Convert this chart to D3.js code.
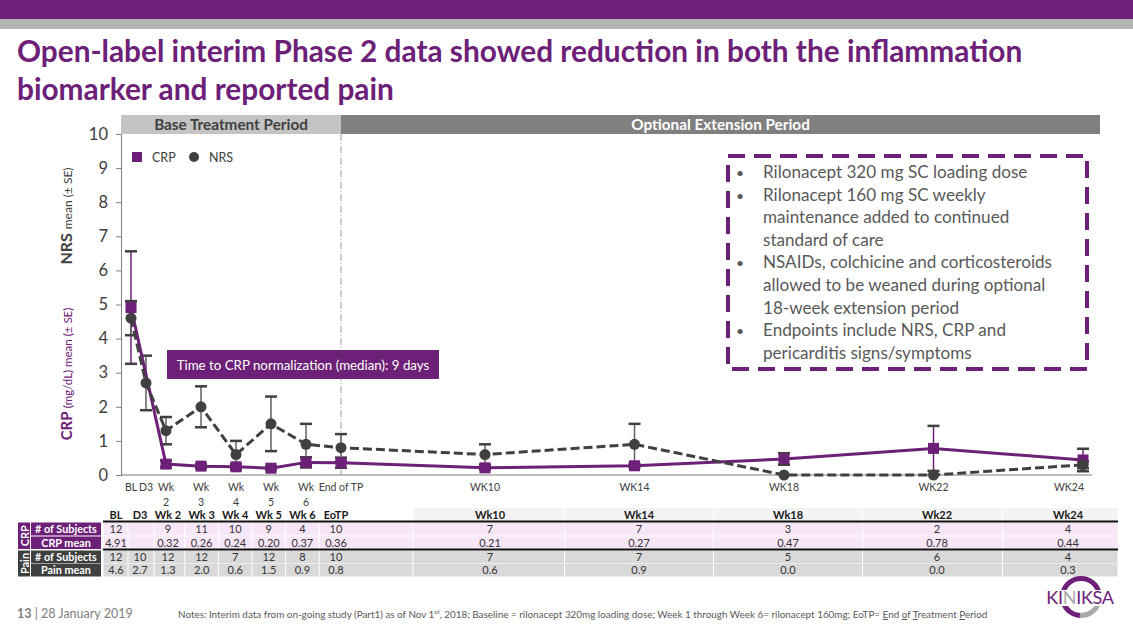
<!DOCTYPE html>
<html>
<head>
<meta charset="utf-8">
<script src="https://cdn.jsdelivr.net/npm/d3@7/dist/d3.min.js"></script>
<style>
  html, body { margin: 0; padding: 0; background: #ffffff; }
  svg { display: block; font-family: Lato, "Open Sans", sans-serif; }
</style>
</head>
<body>
<svg id="chart" width="1133" height="635"></svg>
<script>
// ---------------- DATA ----------------
const categories = ["BL", "D3", "Wk 2", "Wk 3", "Wk 4", "Wk 5", "Wk 6", "EoTP", "Wk10", "Wk14", "Wk18", "Wk22", "Wk24"];
const axisLabels = [["BL"], ["D3"], ["Wk", "2"], ["Wk", "3"], ["Wk", "4"], ["Wk", "5"], ["Wk", "6"], ["End of TP"], ["WK10"], ["WK14"], ["WK18"], ["WK22"], ["WK24"]];
const studyDay = [0, 3, 7, 14, 21, 28, 35, 42, 70, 98, 126, 154, 182];
const crpMean = [4.91, null, 0.32, 0.26, 0.24, 0.20, 0.37, 0.36, 0.21, 0.27, 0.47, 0.78, 0.44];
const crpSE   = [1.65, null, 0.10, 0.06, 0.08, 0.05, 0.15, 0.15, 0.05, 0.05, 0.17, 0.66, 0.33];
const nrsMean = [4.6, 2.7, 1.3, 2.0, 0.6, 1.5, 0.9, 0.8, 0.6, 0.9, 0.0, 0.0, 0.3];
const nrsSE   = [0.5, 0.8, 0.4, 0.6, 0.4, 0.8, 0.6, 0.4, 0.3, 0.6, 0.0, 0.0, 0.1];
const crpN    = [12, null, 9, 11, 10, 9, 4, 10, 7, 7, 3, 2, 4];
const painN   = [12, 10, 12, 12, 7, 12, 8, 10, 7, 7, 5, 6, 4];
const yTicks = [0, 1, 2, 3, 4, 5, 6, 7, 8, 9, 10];
const periods = ["Base Treatment Period", "Optional Extension Period"];
const bullets = [
  ["Rilonacept 320 mg SC loading dose"],
  ["Rilonacept 160 mg SC weekly", "maintenance added to continued", "standard of care"],
  ["NSAIDs, colchicine and corticosteroids", "allowed to be weaned during optional", "18-week extension period"],
  ["Endpoints include NRS, CRP and", "pericarditis signs/symptoms"]
];
const titleLines = ["Open-label interim Phase 2 data showed reduction in both the inflammation", "biomarker and reported pain"];
const callout = "Time to CRP normalization (median): 9 days";

// ---------------- STYLE ----------------
const PURPLE = "#6d2077";
const DARK = "#404040";
const svg = d3.select("#chart");

// top bands
svg.append("rect").attr("x", 0).attr("y", 0).attr("width", 1133).attr("height", 19).attr("fill", PURPLE);
svg.append("rect").attr("x", 0).attr("y", 19).attr("width", 1133).attr("height", 10).attr("fill", "#b4b4b4");

// title
svg.append("g").selectAll("text").data(titleLines).join("text")
  .attr("x", 17).attr("y", (d, i) => 62 + i * 38)
  .attr("fill", PURPLE).attr("font-size", 29.8).attr("font-weight", 700)
  .text(d => d);

// ---------------- SCALES ----------------
const x = d3.scaleLinear().domain([0, 42, 70, 182]).range([131, 341, 485, 1083]);
const y = d3.scaleLinear().domain([0, 10]).range([475, 134]);
const tx = d3.scaleLinear().domain([0, 3, 7, 42, 70, 154, 182]).range([116, 140, 168, 336, 490, 937, 1068]);

// period header bars
const pStart = [121, x(42)];
const pEnd = [x(42), 1100];
periods.forEach((p, i) => {
  svg.append("rect").attr("x", pStart[i]).attr("y", 115).attr("width", pEnd[i] - pStart[i]).attr("height", 19)
    .attr("fill", i === 0 ? "#c4c4c4" : "#808080");
  svg.append("text").attr("x", (pStart[i] + pEnd[i]) / 2).attr("y", 130).attr("text-anchor", "middle")
    .attr("font-size", 15.3).attr("font-weight", 700).attr("fill", i === 0 ? DARK : "#ffffff").text(p);
});

// end of TP separator
svg.append("line").attr("x1", x(42)).attr("x2", x(42)).attr("y1", 134).attr("y2", y(0))
  .attr("stroke", "#9a9a9a").attr("stroke-width", 1).attr("stroke-dasharray", "7 2 1 2");

// y axis
const yAxis = d3.axisLeft(y).tickValues(yTicks).tickSize(5).tickPadding(8);
const gy = svg.append("g").attr("transform", "translate(121,0)").call(yAxis);
gy.select(".domain").attr("stroke", "#7f7f7f");
gy.selectAll(".tick line").attr("stroke", "#7f7f7f");
gy.selectAll(".tick text").attr("font-size", 16.5).attr("fill", DARK).attr("font-family", "Lato, sans-serif");

// y axis titles
const yt1 = svg.append("text").attr("transform", "translate(72,216) rotate(-90)").attr("text-anchor", "middle").attr("fill", DARK);
yt1.append("tspan").attr("font-size", 16).attr("font-weight", 700).text("NRS ");
yt1.append("tspan").attr("font-size", 12).text("mean (± SE)");
const yt2 = svg.append("text").attr("transform", "translate(72,374) rotate(-90)").attr("text-anchor", "middle").attr("fill", PURPLE);
yt2.append("tspan").attr("font-size", 15).attr("font-weight", 700).text("CRP ");
yt2.append("tspan").attr("font-size", 11.5).text("(mg/dL) mean (± SE)");

// x axis line
svg.append("line").attr("x1", 121).attr("x2", 1092).attr("y1", y(0)).attr("y2", y(0)).attr("stroke", "#7f7f7f").attr("stroke-width", 1.2);

// x labels
const xl = svg.append("g").selectAll("text").data(axisLabels).join("text")
  .attr("x", (d, i) => x(studyDay[i]) + (i === 12 ? -14 : 0))
  .attr("text-anchor", "middle").attr("font-size", 10.5).attr("fill", DARK);
xl.selectAll("tspan").data(d => d).join("tspan")
  .attr("x", function () { return d3.select(this.parentNode).attr("x"); })
  .attr("y", (d, j) => 491 + j * 15).text(d => d);

// series
const pts = categories.map((c, i) => ({ i, day: studyDay[i], crp: crpMean[i], crpSE: crpSE[i], nrs: nrsMean[i], nrsSE: nrsSE[i] }));
const crpPts = pts.filter(d => d.crp !== null);

// error bars
const eb = svg.append("g");
function errBars(data, key, seKey, lineColor) {
  const g = eb.append("g");
  const f = data.filter(d => d[seKey] > 0);
  g.selectAll("line.v").data(f).join("line").attr("class", "v")
    .attr("x1", d => x(d.day)).attr("x2", d => x(d.day))
    .attr("y1", d => y(d[key] + d[seKey])).attr("y2", d => y(Math.max(0, d[key] - d[seKey])))
    .attr("stroke", lineColor).attr("stroke-width", 1.5);
  ["+", "-"].forEach(s => {
    g.selectAll("line.c" + (s === "+" ? "u" : "l")).data(f).join("line").attr("class", "c" + (s === "+" ? "u" : "l"))
      .attr("x1", d => x(d.day) - 6).attr("x2", d => x(d.day) + 6)
      .attr("y1", d => y(s === "+" ? d[key] + d[seKey] : Math.max(0, d[key] - d[seKey])))
      .attr("y2", d => y(s === "+" ? d[key] + d[seKey] : Math.max(0, d[key] - d[seKey])))
      .attr("stroke", DARK).attr("stroke-width", 2.5);
  });
}
errBars(crpPts, "crp", "crpSE", PURPLE);
errBars(pts, "nrs", "nrsSE", "#606060");

// CRP line
svg.append("path").datum(crpPts)
  .attr("d", d3.line().x(d => x(d.day)).y(d => y(d.crp)))
  .attr("fill", "none").attr("stroke", PURPLE).attr("stroke-width", 3);
// NRS line
svg.append("path").datum(pts)
  .attr("d", d3.line().x(d => x(d.day)).y(d => y(d.nrs)))
  .attr("fill", "none").attr("stroke", DARK).attr("stroke-width", 3).attr("stroke-dasharray", "9 4");

// markers
svg.append("g").selectAll("rect").data(crpPts).join("rect")
  .attr("x", d => x(d.day) - 5.5).attr("y", d => y(d.crp) - 5.5).attr("width", 11).attr("height", 11)
  .attr("fill", PURPLE);
svg.append("g").selectAll("circle").data(pts).join("circle")
  .attr("cx", d => x(d.day)).attr("cy", d => y(d.nrs)).attr("r", 5.5).attr("fill", DARK);

// legend
svg.append("rect").attr("x", 132).attr("y", 152).attr("width", 10).attr("height", 10).attr("fill", PURPLE);
svg.append("text").attr("x", 152).attr("y", 162).attr("font-size", 12.5).attr("fill", DARK).text("CRP");
svg.append("circle").attr("cx", 194).attr("cy", 157).attr("r", 5).attr("fill", DARK);
svg.append("text").attr("x", 209).attr("y", 162).attr("font-size", 12.5).attr("fill", DARK).text("NRS");

// callout
svg.append("rect").attr("x", 167).attr("y", 350).attr("width", 272).attr("height", 29).attr("fill", PURPLE);
svg.append("text").attr("x", 303).attr("y", 370).attr("text-anchor", "middle").attr("font-size", 13.3).attr("fill", "#ffffff").text(callout);

// dashed box
svg.append("rect").attr("x", 728).attr("y", 156).attr("width", 359).attr("height", 213)
  .attr("fill", "none").attr("stroke", PURPLE).attr("stroke-width", 4).attr("stroke-dasharray", "17 9");
let lineIdx = 0;
const bg = svg.append("g").attr("font-size", 17.1).attr("fill", "#595959");
bullets.forEach(b => {
  bg.append("text").attr("x", 736).attr("y", 178 + lineIdx * 22.6).attr("font-size", 14).text("•");
  b.forEach(line => {
    bg.append("text").attr("x", 763).attr("y", 178 + lineIdx * 22.6).text(line);
    lineIdx++;
  });
});

// ---------------- TABLE ----------------
const table = svg.append("g");
const rowTop = [508, 522.5, 536.5, 550.5, 563.5];
const rowH = [13, 13, 12.5, 12.5, 13];
const colEdges = studyDay.map((d, i) => {
  const left = i === 0 ? 103 : (tx(studyDay[i - 1]) + tx(d)) / 2;
  const right = i === studyDay.length - 1 ? 1118 : (tx(d) + tx(studyDay[i + 1])) / 2;
  return [left, right];
});
const rowFill = ["#f3f3f3", "#f6e6f8", "#f6e6f8", "#d9d9d9", "#d9d9d9"];
const rowVals = [
  categories,
  crpN.map(v => v === null ? "" : String(v)),
  crpMean.map(v => v === null ? "" : v.toFixed(2)),
  painN.map(v => String(v)),
  nrsMean.map(v => v.toFixed(1))
];
rowVals.forEach((vals, r) => {
  colEdges.forEach((e, c) => {
    table.append("rect").attr("x", e[0] + 0.5).attr("y", rowTop[r]).attr("width", e[1] - e[0] - 1).attr("height", rowH[r])
      .attr("fill", r === 0 && c < 8 ? "#ffffff" : rowFill[r]);
    table.append("text").attr("x", tx(studyDay[c])).attr("y", rowTop[r] + rowH[r] - 2.5)
      .attr("text-anchor", "middle").attr("font-size", 11).attr("font-weight", r === 0 ? 700 : 400)
      .attr("fill", r === 0 ? "#1a1a1a" : "#333333").text(vals[c]);
  });
});
// left label cells
const labelRows = ["# of Subjects", "CRP mean", "# of Subjects", "Pain mean"];
labelRows.forEach((l, k) => {
  const r = k + 1;
  table.append("rect").attr("x", 31).attr("y", rowTop[r]).attr("width", 70).attr("height", rowH[r])
    .attr("fill", r <= 2 ? PURPLE : DARK);
  table.append("text").attr("x", 66).attr("y", rowTop[r] + rowH[r] - 2.5).attr("text-anchor", "middle")
    .attr("font-size", 10.8).attr("font-weight", 700).attr("fill", "#ffffff").text(l);
});
["CRP", "Pain"].forEach((g, k) => {
  const top = rowTop[1 + k * 2];
  const h = rowTop[2 + k * 2] + rowH[2 + k * 2] - top;
  table.append("rect").attr("x", 18).attr("y", top).attr("width", 12).attr("height", h).attr("fill", k === 0 ? PURPLE : DARK);
  table.append("text").attr("transform", `translate(28.5,${top + h / 2}) rotate(-90)`).attr("text-anchor", "middle")
    .attr("font-size", 11).attr("font-weight", 700).attr("fill", "#ffffff").text(g);
});
// thick separators
[521.5, 549.5].forEach(yy => {
  table.append("line").attr("x1", 103).attr("x2", 1118).attr("y1", yy).attr("y2", yy).attr("stroke", "#111").attr("stroke-width", 2);
});

// ---------------- FOOTER ----------------
const ft = svg.append("text").attr("x", 17).attr("y", 618).attr("font-size", 12.5).attr("fill", "#7f7f7f");
ft.append("tspan").attr("font-weight", 700).text("13");
ft.append("tspan").text(" | 28 January 2019");
const nt = svg.append("text").attr("x", 178).attr("y", 618).attr("font-size", 9.9).attr("fill", "#595959");
nt.append("tspan").text("Notes: Interim data from on-going study (Part1) as of Nov 1");
nt.append("tspan").attr("font-size", 6.5).attr("dy", -4).text("st");
nt.append("tspan").attr("dy", 4).text(", 2018;  Baseline = rilonacept 320mg loading dose; Week 1 through Week 6= rilonacept 160mg; EoTP= ");
[["E", true], ["nd ", false], ["o", true], ["f ", false], ["T", true], ["reatment ", false], ["P", true], ["eriod", false]].forEach(p => {
  nt.append("tspan").attr("text-decoration", p[1] ? "underline" : null).text(p[0]);
});

// logo
const logo = svg.append("g").attr("transform", "translate(1081,597)");
const arc = d3.arc().innerRadius(16).outerRadius(21);
logo.append("path").attr("d", arc({ startAngle: -1.3, endAngle: 1.3 })).attr("fill", PURPLE);
logo.append("path").attr("d", arc({ startAngle: 1.9, endAngle: 3.2 })).attr("fill", "#a9a9a9");
logo.append("path").attr("d", arc({ startAngle: 3.2, endAngle: 4.4 })).attr("fill", PURPLE);
logo.append("rect").attr("x", -37).attr("y", -7).attr("width", 74).attr("height", 16).attr("fill", "#ffffff");
const lt = logo.append("text").attr("x", -1).attr("y", 7).attr("text-anchor", "middle").attr("font-size", 18).attr("letter-spacing", -0.3).attr("fill", PURPLE);
[["KI", PURPLE], ["N", "#a9a9a9"], ["IKSA", PURPLE]].forEach(p => lt.append("tspan").attr("fill", p[1]).text(p[0]));
</script>
</body>
</html>
